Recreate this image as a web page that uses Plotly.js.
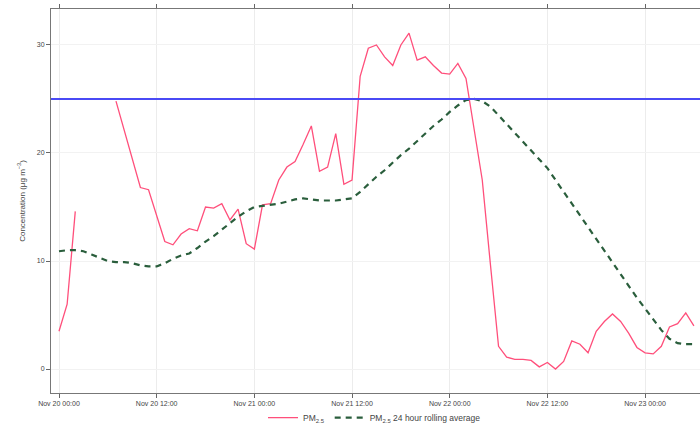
<!DOCTYPE html>
<html>
<head>
<meta charset="utf-8">
<script src="https://cdn.plot.ly/plotly-3.0.1.min.js"></script>
<style>html,body{margin:0;padding:0;background:#fff;}#chart{width:700px;height:423px;}</style>
</head>
<body>
<div id="chart"></div>
<script>
// Hourly time axis start (Nov 20 00:00) and number of hours
var startTime = '2016-11-20T00:00:00';
var nHours = 79;

// PM2.5 hourly concentration (null = missing)
var pm25 = [3.5, 6.0, 14.6, null, null, null, null, 24.8, 22.2, 19.5,
  16.8, 16.6, 14.2, 11.8, 11.5, 12.5, 13.0, 12.8, 15.0, 14.9,
  15.3, 13.8, 14.8, 11.6, 11.1, 15.2, 15.3, 17.5, 18.7, 19.2,
  20.8, 22.5, 18.3, 18.7, 21.8, 17.1, 17.5, 27.1, 29.7, 30.0,
  28.9, 28.1, 30.0, 31.1, 28.6, 28.9, 28.1, 27.4, 27.3, 28.3,
  26.9, 22.0, 17.5, 9.7, 2.1, 1.1, 0.9, 0.9, 0.8, 0.2,
  0.6, 0.0, 0.7, 2.6, 2.3, 1.5, 3.5, 4.4, 5.1, 4.4,
  3.3, 2.0, 1.5, 1.4, 2.1, 3.9, 4.2, 5.2, 4.0];

// PM2.5 24 hour rolling average
var pm25Rolling = [10.9, 11.0, 11.0, 10.9, 10.6, 10.3, 10.0, 9.9, 9.9, 9.8,
  9.6, 9.5, 9.5, 9.8, 10.2, 10.5, 10.7, 11.2, 11.8, 12.3,
  12.9, 13.5, 14.1, 14.6, 15.0, 15.1, 15.2, 15.3, 15.5, 15.7,
  15.8, 15.7, 15.6, 15.6, 15.6, 15.7, 15.8, 16.4, 17.1, 17.8,
  18.4, 19.1, 19.8, 20.4, 21.1, 21.8, 22.5, 23.1, 23.8, 24.4,
  24.9, 25.0, 24.8, 24.3, 23.5, 22.6, 21.8, 21.0, 20.2, 19.4,
  18.6, 17.5, 16.4, 15.3, 14.2, 13.2, 12.1, 11.0, 9.9, 8.8,
  7.7, 6.6, 5.6, 4.6, 3.6, 2.8, 2.4, 2.3, 2.3];

// Reference limit line
var limitValue = 25;

// Tick labels
var tickTimes = ['2016-11-20 00:00', '2016-11-20 12:00', '2016-11-21 00:00', '2016-11-21 12:00',
                 '2016-11-22 00:00', '2016-11-22 12:00', '2016-11-23 00:00'];
var tickLabels = ['Nov 20 00:00', 'Nov 20 12:00', 'Nov 21 00:00', 'Nov 21 12:00',
                  'Nov 22 00:00', 'Nov 22 12:00', 'Nov 23 00:00'];
var yTicks = [0, 10, 20, 30];

function pad(n){return (n<10?'0':'')+n;}
var t0 = new Date(startTime + 'Z').getTime();
var times = [];
for (var i = 0; i < nHours; i++) {
  var d = new Date(t0 + i*3600000);
  times.push(d.getUTCFullYear()+'-'+pad(d.getUTCMonth()+1)+'-'+pad(d.getUTCDate())+' '+pad(d.getUTCHours())+':00');
}

var traces = [
  {x: times, y: pm25, type: 'scatter', mode: 'lines', name: 'PM<sub>2.5</sub>',
   line: {color: '#ff4f7b', width: 1.3}, connectgaps: false},
  {x: times, y: pm25Rolling, type: 'scatter', mode: 'lines', name: 'PM<sub>2.5</sub> 24 hour rolling average',
   line: {color: '#2a5e3c', width: 2.2, dash: '6px,5px'}}
];

var layout = {
  width: 700, height: 423,
  margin: {l: 51, r: 0, t: 9, b: 30, autoexpand: false},
  paper_bgcolor: '#fff', plot_bgcolor: '#fff',
  font: {family: 'Liberation Sans, Arial, sans-serif', size: 7, color: '#444'},
  showlegend: true,
  legend: {orientation: 'h', x: 0.535, xanchor: 'center', xref: 'container', yref: 'container', y: 0.047, yanchor: 'top',
           font: {size: 8.5, color: '#444'}, itemwidth: 30, tracegroupgap: 0, bgcolor: 'rgba(0,0,0,0)'},
  xaxis: {type: 'date', range: ['2016-11-19 23:01', '2016-11-23 06:45'],
          tickvals: tickTimes, ticktext: tickLabels, ticks: 'outside', ticklen: 4, tickcolor: '#666',
          showline: true, linecolor: '#777', linewidth: 1, mirror: 'ticks',
          showgrid: true, gridcolor: '#ececec', gridwidth: 1, zeroline: false,
          tickfont: {size: 7, color: '#444'}},
  yaxis: {range: [-2.22, 33.33], tickvals: yTicks, ticks: 'outside', ticklen: 4, tickcolor: '#666',
          showline: true, linecolor: '#777', linewidth: 1,
          showgrid: true, gridcolor: '#f2f2f2', zeroline: false,
          tickfont: {size: 7, color: '#444'},
          title: {text: 'Concentration (μg m<sup>−3</sup>)', font: {size: 8, color: '#444'}, standoff: 10}},
  shapes: [{type: 'line', xref: 'paper', x0: 0, x1: 1, yref: 'y', y0: limitValue, y1: limitValue,
            line: {color: '#4a4af5', width: 2}}]
};

Plotly.newPlot('chart', traces, layout, {displayModeBar: false, staticPlot: true});
</script>
</body>
</html>
